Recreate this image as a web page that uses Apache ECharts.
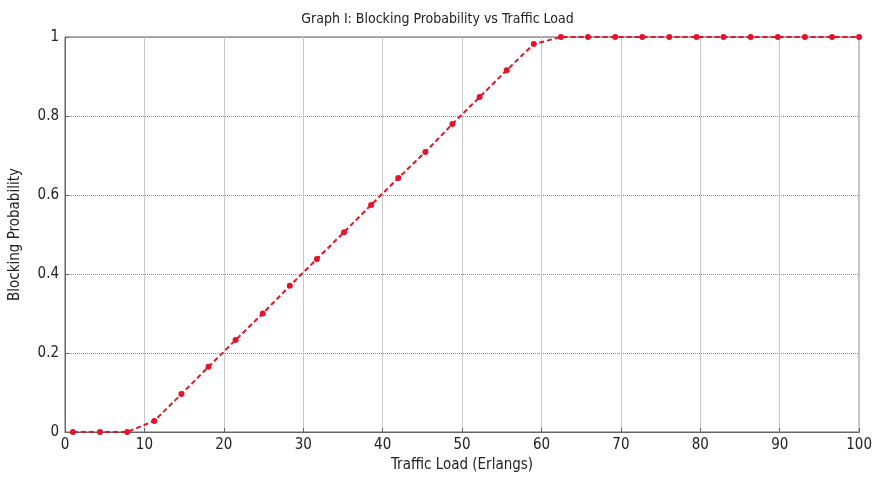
<!DOCTYPE html>
<html>
<head>
<meta charset="utf-8">
<script src="https://cdn.jsdelivr.net/npm/echarts@6/dist/echarts.min.js"></script>
<style>
  html, body { margin: 0; padding: 0; background: #fff; }
  #chart { width: 875px; height: 482px; }
</style>
</head>
<body>
<div id="chart"></div>
<script>
// traffic load (Erlangs) and blocking probability
var trafficLoad = [1, 4.41, 7.83, 11.24, 14.66, 18.07, 21.48, 24.9, 28.31, 31.72,
  35.14, 38.55, 41.97, 45.38, 48.79, 52.21, 55.62, 59.03, 62.45, 65.86,
  69.28, 72.69, 76.1, 79.52, 82.93, 86.34, 89.76, 93.17, 96.59, 100]
var blockingProb = [0, 0, 0, 0.028, 0.096, 0.165, 0.233, 0.3, 0.37, 0.438,
  0.506, 0.575, 0.643, 0.709, 0.78, 0.848, 0.916, 0.982, 1, 1,
  1, 1, 1, 1, 1, 1, 1, 1, 1, 1]

var font = 'Liberation Sans Narrow, DejaVu Sans Condensed, sans-serif'
var points = trafficLoad.map(function (x, i) { return [x, blockingProb[i]] })

var chart = echarts.init(document.getElementById('chart'))
chart.setOption({
  animation: false,
  title: {
    text: 'Graph I: Blocking Probability vs Traffic Load',
    left: 'center',
    top: 7,
    textStyle: { fontFamily: font, fontSize: 14, fontWeight: 'normal', color: '#222' }
  },
  grid: {
    left: 64,
    right: 14,
    top: 37,
    bottom: 50,
    show: true,
    borderColor: '#666',
    borderWidth: 1
  },
  xAxis: {
    type: 'value',
    min: 0,
    max: 100,
    interval: 10,
    name: 'Traffic Load (Erlangs)',
    nameLocation: 'middle',
    nameGap: 26,
    nameTextStyle: { fontFamily: font, fontSize: 15, color: '#222' },
    axisLine: { lineStyle: { color: '#666' } },
    axisTick: { inside: true, length: 4, lineStyle: { color: '#666' } },
    axisLabel: { fontFamily: font, fontSize: 15, color: '#222', margin: 6 },
    splitLine: { lineStyle: { color: '#c8c8c8', type: 'solid' } }
  },
  yAxis: {
    type: 'value',
    min: 0,
    max: 1,
    interval: 0.2,
    name: 'Blocking Probability',
    nameLocation: 'middle',
    nameGap: 42,
    nameTextStyle: { fontFamily: font, fontSize: 15, color: '#222' },
    axisLine: { show: true, lineStyle: { color: '#666' } },
    axisTick: { show: true, inside: true, length: 4, lineStyle: { color: '#666' } },
    axisLabel: { fontFamily: font, fontSize: 15, color: '#222', margin: 6 },
    splitLine: { lineStyle: { color: '#888', type: 'dotted' } }
  },
  series: [
    {
      type: 'line',
      data: points,
      symbol: 'circle',
      symbolSize: 6,
      lineStyle: { color: '#e5132a', width: 2, type: [5, 3] },
      itemStyle: { color: '#e5132a' }
    }
  ]
})
</script>
</body>
</html>
